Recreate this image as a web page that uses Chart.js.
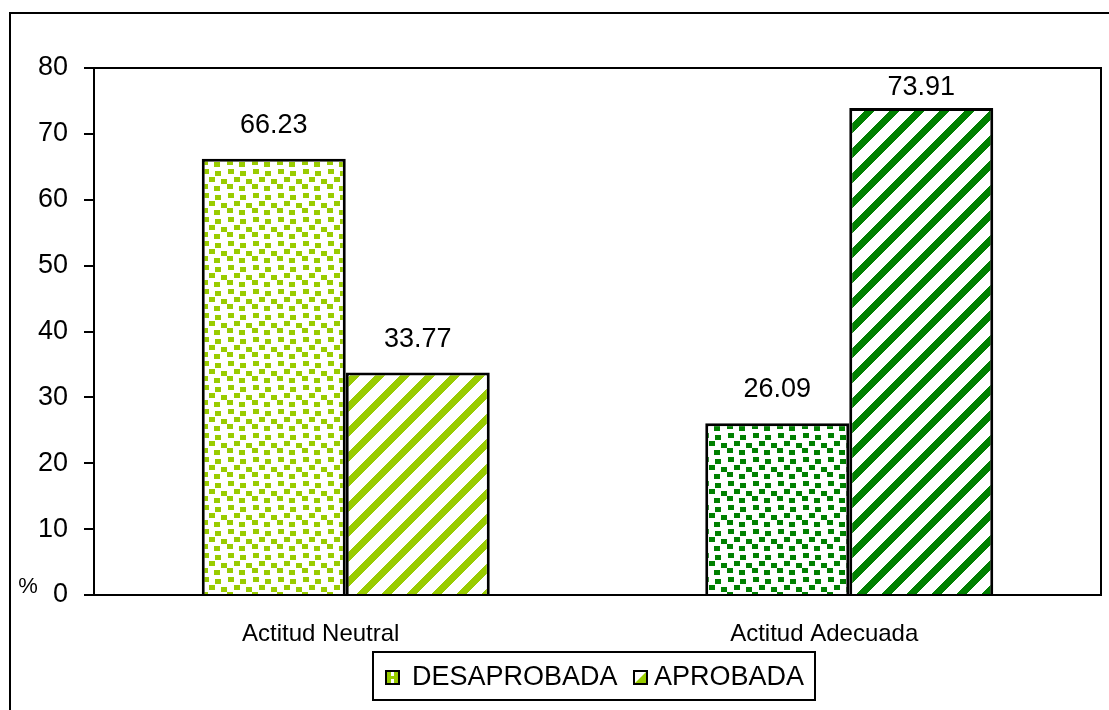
<!DOCTYPE html>
<html>
<head>
<meta charset="utf-8">
<script src="https://cdn.jsdelivr.net/npm/chart.js@4.4.1/dist/chart.umd.min.js"></script>
<style>
  html, body { margin: 0; padding: 0; background: #fff; }
  #wrap { width: 1109px; height: 710px; position: relative; }
</style>
</head>
<body>
<div id="wrap"><canvas id="c" width="1109" height="710"></canvas></div>
<script>
const categories = ['Actitud Neutral', 'Actitud Adecuada'];
const seriesNames = ['DESAPROBADA', 'APROBADA'];
const desaprobada = [66.23, 26.09];
const aprobada = [33.77, 73.91];
const yMin = 0, yMax = 80, yStep = 10;
const axisUnit = '%';

const LIGHT = '#99CC00';
const DARK = '#008000';
const FONT = '"Liberation Sans", Arial, sans-serif';

function dotPattern(color) {
  const c = document.createElement('canvas');
  const W = 25, H = 24;
  c.width = W; c.height = H;
  const g = c.getContext('2d');
  g.fillStyle = '#fff'; g.fillRect(0, 0, W, H);
  g.fillStyle = color;
  const sq = [[3,1],[15,3],[9,9],[21,11],[2,16],[14,18]];
  sq.forEach(([x, y]) => {
    for (const ox of [0, -W]) for (const oy of [0, -H]) g.fillRect(x + ox, y + oy, 6, 5);
  });
  return g.createPattern(c, 'repeat');
}
function stripePattern(color) {
  const c = document.createElement('canvas');
  const P = 25;
  c.width = P; c.height = P;
  const g = c.getContext('2d');
  g.fillStyle = '#fff'; g.fillRect(0, 0, P, P);
  g.fillStyle = color;
  for (let y = 0; y < P; y++) {
    for (let x = 0; x < P; x++) {
      if ((x + y) % P < 10) g.fillRect(x, y, 1, 1);
    }
  }
  return g.createPattern(c, 'repeat');
}

const framePlugin = {
  id: 'frame',
  afterDatasetsDraw(chart) {
    const ctx = chart.ctx;
    const a = chart.chartArea;
    ctx.save();
    ctx.strokeStyle = '#000';
    ctx.lineWidth = 2;
    ctx.strokeRect(a.left, a.top, a.right - a.left, a.bottom - a.top);
    ctx.fillStyle = '#000';
    ctx.font = '27px ' + FONT;
    ctx.textAlign = 'center';
    ctx.textBaseline = 'alphabetic';
    chart.data.datasets.forEach((ds, di) => {
      chart.getDatasetMeta(di).data.forEach((bar, i) => {
        const yb = Math.max(bar.y - 26, a.top + 27);
        ctx.fillText(ds.data[i].toFixed(2), bar.x, yb);
      });
    });
    ctx.restore();
  },
  afterDraw(chart) {
    const ctx = chart.ctx;
    ctx.save();
    ctx.strokeStyle = '#000';
    ctx.lineWidth = 2;
    ctx.beginPath();
    ctx.moveTo(10, 712);
    ctx.lineTo(10, 13);
    ctx.lineTo(1112, 13);
    ctx.stroke();
    ctx.fillStyle = '#000';
    ctx.font = '22px ' + FONT;
    ctx.textAlign = 'center';
    ctx.textBaseline = 'alphabetic';
    ctx.fillText(axisUnit, 28, 593);
    const lx = 373, ly = 652, lw = 442, lh = 48;
    ctx.fillStyle = '#fff';
    ctx.fillRect(lx, ly, lw, lh);
    ctx.strokeRect(lx, ly, lw, lh);
    ctx.font = '27px ' + FONT;
    ctx.textAlign = 'left';
    ctx.textBaseline = 'middle';
    const items = [
      { x: 385, tx: 412, text: seriesNames[0], kind: 'dot' },
      { x: 633, tx: 654, text: seriesNames[1], kind: 'stripe' }
    ];
    items.forEach(it => {
      const bx = it.x, by = 670, bs = 15;
      ctx.fillStyle = '#fff';
      ctx.fillRect(bx, by, bs, bs);
      ctx.fillStyle = LIGHT;
      if (it.kind === 'dot') {
        ctx.fillRect(bx + 2, by + 2, 4, 11);
        ctx.fillRect(bx + 9, by + 2, 4, 11);
        ctx.fillRect(bx + 6, by + 6, 3, 3);
      } else {
        ctx.beginPath();
        ctx.moveTo(bx + bs - 2, by + 2);
        ctx.lineTo(bx + bs - 2, by + bs - 2);
        ctx.lineTo(bx + 2, by + bs - 2);
        ctx.closePath();
        ctx.fill();
      }
      ctx.strokeStyle = '#000';
      ctx.lineWidth = 2;
      ctx.strokeRect(bx + 1, by + 1, bs - 2, bs - 2);
      ctx.fillStyle = '#000';
      ctx.fillText(it.text, it.tx, 678);
    });
    ctx.restore();
  }
};

new Chart(document.getElementById('c'), {
  type: 'bar',
  data: {
    labels: categories,
    datasets: [
      {
        label: seriesNames[0],
        data: desaprobada,
        backgroundColor: [dotPattern(LIGHT), dotPattern(DARK)],
        borderColor: '#000',
        borderWidth: 3,
        categoryPercentage: 0.572,
        barPercentage: 1.0
      },
      {
        label: seriesNames[1],
        data: aprobada,
        backgroundColor: [stripePattern(LIGHT), stripePattern(DARK)],
        borderColor: '#000',
        borderWidth: 3,
        categoryPercentage: 0.572,
        barPercentage: 1.0
      }
    ]
  },
  options: {
    responsive: false,
    animation: false,
    devicePixelRatio: 1,
    layout: { padding: { top: 68, right: 8, left: 0, bottom: 0 } },
    plugins: {
      legend: { display: false },
      tooltip: { enabled: false }
    },
    scales: {
      x: {
        grid: { display: false },
        border: { display: false },
        ticks: {
          color: '#000',
          font: { family: FONT, size: 24 },
          padding: 17,
          labelOffset: -25,
          maxRotation: 0
        },
        afterFit(s) { s.height = 115; }
      },
      y: {
        min: yMin,
        max: yMax,
        ticks: {
          stepSize: yStep,
          color: '#000',
          font: { family: FONT, size: 27 },
          padding: 16
        },
        grid: { drawOnChartArea: false, color: '#000', lineWidth: 2, tickLength: 10 },
        border: { color: '#000', width: 2 },
        afterFit(s) { s.width = 94; }
      }
    }
  },
  plugins: [framePlugin]
});
</script>
</body>
</html>
